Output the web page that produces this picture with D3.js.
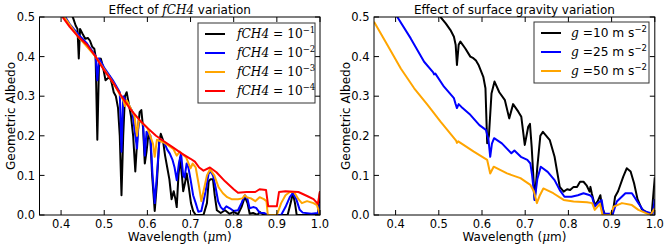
<!DOCTYPE html>
<html>
<head>
<meta charset="utf-8">
<script src="https://cdn.jsdelivr.net/npm/d3@7"></script>
<style>
  body { margin: 0; background: #fff; }
  text { font-family: "DejaVu Sans", sans-serif; fill: #000; }
  .math { font-family: "DejaVu Serif", serif; font-style: italic; }
  .rm { font-family: "DejaVu Serif", serif; }
</style>
</head>
<body>
<div id="chart"></div>
<script>
// tick values and labels
const xTicks = [0.4, 0.5, 0.6, 0.7, 0.8, 0.9, 1.0];
const xTickLabels = ["0.4", "0.5", "0.6", "0.7", "0.8", "0.9", "1.0"];
const yTicks = [0.0, 0.1, 0.2, 0.3, 0.4, 0.5];
const yTickLabels = ["0.0", "0.1", "0.2", "0.3", "0.4", "0.5"];

// left panel: [wavelength (um), albedo]
const fch4_1 = [[0.423,0.51],[0.428,0.497],[0.434,0.478],[0.438,0.47],[0.441,0.395],[0.444,0.47],[0.450,0.457],[0.456,0.445],[0.462,0.447],[0.467,0.44],[0.472,0.425],[0.477,0.42],[0.480,0.40],[0.484,0.19],[0.488,0.385],[0.492,0.395],[0.497,0.375],[0.503,0.34],[0.508,0.345],[0.513,0.35],[0.518,0.33],[0.522,0.31],[0.527,0.30],[0.532,0.27],[0.536,0.2],[0.540,0.05],[0.544,0.2],[0.548,0.30],[0.552,0.31],[0.557,0.28],[0.562,0.25],[0.567,0.2],[0.572,0.11],[0.577,0.2],[0.582,0.26],[0.586,0.265],[0.590,0.22],[0.594,0.13],[0.598,0.16],[0.603,0.21],[0.607,0.19],[0.611,0.1],[0.617,0.01],[0.622,0.08],[0.627,0.18],[0.631,0.205],[0.636,0.19],[0.641,0.15],[0.646,0.12],[0.651,0.09],[0.656,0.04],[0.661,0.06],[0.665,0.04],[0.668,0.02],[0.672,0.10],[0.676,0.145],[0.680,0.10],[0.683,0.06],[0.687,0.08],[0.691,0.105],[0.696,0.07],[0.701,0.03],[0.706,0.01],[0.712,0.0],[0.73,0.0],[0.738,0.03],[0.742,0.085],[0.746,0.09],[0.752,0.09],[0.756,0.05],[0.761,0.012],[0.77,0.005],[0.78,0.012],[0.79,0.003],[0.80,0.008],[0.81,0.002],[0.818,0.02],[0.826,0.046],[0.832,0.03],[0.837,0.003],[0.845,0.005],[0.855,0.0],[0.86,0.008],[0.87,0.0],[0.925,0.0],[0.932,0.03],[0.937,0.055],[0.942,0.03],[0.946,0.0],[0.995,0.0],[1.0,0.06]];
const fch4_2 = [[0.404,0.51],[0.42,0.482],[0.44,0.456],[0.46,0.433],[0.48,0.402],[0.484,0.34],[0.488,0.396],[0.50,0.372],[0.52,0.34],[0.536,0.31],[0.540,0.16],[0.544,0.30],[0.556,0.28],[0.565,0.262],[0.572,0.2],[0.576,0.168],[0.58,0.24],[0.59,0.23],[0.594,0.15],[0.598,0.21],[0.607,0.2],[0.612,0.1],[0.617,0.03],[0.622,0.1],[0.628,0.19],[0.634,0.19],[0.64,0.18],[0.646,0.165],[0.652,0.155],[0.658,0.14],[0.663,0.12],[0.668,0.088],[0.673,0.13],[0.678,0.156],[0.683,0.1],[0.686,0.095],[0.691,0.13],[0.695,0.12],[0.70,0.09],[0.706,0.05],[0.712,0.03],[0.718,0.008],[0.725,0.01],[0.735,0.06],[0.742,0.105],[0.747,0.11],[0.752,0.1],[0.758,0.07],[0.764,0.034],[0.770,0.02],[0.776,0.013],[0.783,0.022],[0.791,0.017],[0.80,0.01],[0.81,0.012],[0.818,0.03],[0.826,0.05],[0.832,0.04],[0.837,0.017],[0.845,0.02],[0.852,0.018],[0.86,0.006],[0.87,0.005],[0.88,0.0],[0.91,0.0],[0.92,0.02],[0.93,0.045],[0.937,0.055],[0.945,0.04],[0.953,0.013],[0.96,0.006],[0.98,0.003],[0.995,0.005],[1.0,0.03]];
const fch4_3 = [[0.404,0.505],[0.44,0.45],[0.48,0.40],[0.52,0.335],[0.544,0.29],[0.548,0.275],[0.552,0.29],[0.57,0.25],[0.576,0.2],[0.58,0.24],[0.60,0.22],[0.613,0.18],[0.617,0.147],[0.622,0.19],[0.64,0.182],[0.66,0.167],[0.668,0.15],[0.675,0.16],[0.69,0.145],[0.70,0.118],[0.705,0.13],[0.712,0.12],[0.72,0.07],[0.725,0.035],[0.73,0.06],[0.738,0.1],[0.745,0.115],[0.755,0.1],[0.765,0.07],[0.775,0.055],[0.785,0.045],[0.795,0.04],[0.81,0.04],[0.82,0.042],[0.826,0.05],[0.83,0.045],[0.84,0.042],[0.85,0.035],[0.86,0.045],[0.87,0.04],[0.876,0.035],[0.879,0.0],[0.90,0.0],[0.91,0.03],[0.92,0.05],[0.93,0.058],[0.94,0.058],[0.95,0.04],[0.958,0.03],[0.97,0.035],[0.985,0.03],[0.993,0.025],[1.0,0.0]];
const fch4_4 = [[0.40,0.505],[0.42,0.475],[0.44,0.45],[0.46,0.43],[0.48,0.40],[0.50,0.365],[0.52,0.335],[0.54,0.30],[0.56,0.268],[0.58,0.242],[0.60,0.22],[0.62,0.20],[0.64,0.185],[0.66,0.17],[0.68,0.155],[0.70,0.142],[0.71,0.135],[0.72,0.12],[0.73,0.112],[0.745,0.12],[0.76,0.108],[0.78,0.085],[0.80,0.065],[0.81,0.056],[0.83,0.058],[0.85,0.058],[0.86,0.065],[0.875,0.063],[0.88,0.022],[0.90,0.022],[0.905,0.058],[0.92,0.06],[0.95,0.058],[0.97,0.048],[0.985,0.04],[0.995,0.028],[1.0,0.06]];

// right panel: [wavelength (um), albedo]
const g10 = [[0.50,0.51],[0.504,0.5],[0.516,0.484],[0.527,0.467],[0.535,0.45],[0.539,0.43],[0.542,0.379],[0.546,0.43],[0.55,0.438],[0.561,0.421],[0.573,0.40],[0.58,0.396],[0.586,0.39],[0.592,0.379],[0.603,0.349],[0.608,0.32],[0.612,0.181],[0.616,0.2],[0.622,0.307],[0.629,0.337],[0.64,0.31],[0.653,0.29],[0.663,0.244],[0.672,0.28],[0.684,0.261],[0.691,0.248],[0.699,0.177],[0.707,0.223],[0.711,0.23],[0.715,0.172],[0.722,0.038],[0.728,0.12],[0.735,0.2],[0.741,0.21],[0.757,0.189],[0.768,0.147],[0.78,0.071],[0.789,0.059],[0.797,0.065],[0.804,0.063],[0.812,0.071],[0.82,0.071],[0.827,0.084],[0.835,0.084],[0.842,0.075],[0.849,0.059],[0.851,0.071],[0.854,0.055],[0.861,0.025],[0.868,0.035],[0.874,0.05],[0.878,0.02],[0.885,0.0],[0.902,0.0],[0.908,0.046],[0.915,0.06],[0.927,0.097],[0.935,0.118],[0.944,0.11],[0.952,0.08],[0.96,0.04],[0.97,0.015],[0.983,0.005],[0.993,0.005],[1.0,0.095]];
const g25 = [[0.40,0.51],[0.404,0.5],[0.435,0.446],[0.466,0.387],[0.487,0.36],[0.489,0.355],[0.492,0.357],[0.512,0.324],[0.535,0.295],[0.539,0.28],[0.542,0.27],[0.546,0.28],[0.555,0.27],[0.573,0.253],[0.594,0.227],[0.609,0.215],[0.615,0.19],[0.619,0.147],[0.623,0.18],[0.628,0.194],[0.646,0.181],[0.668,0.156],[0.675,0.163],[0.69,0.147],[0.705,0.139],[0.712,0.13],[0.716,0.1],[0.722,0.038],[0.728,0.09],[0.736,0.122],[0.752,0.109],[0.768,0.088],[0.78,0.063],[0.791,0.046],[0.807,0.046],[0.822,0.05],[0.835,0.055],[0.85,0.05],[0.855,0.045],[0.861,0.021],[0.868,0.03],[0.877,0.038],[0.882,0.003],[0.903,0.003],[0.912,0.034],[0.932,0.055],[0.947,0.055],[0.962,0.03],[0.974,0.01],[0.995,0.003],[1.0,0.04]];
const g50 = [[0.35,0.488],[0.381,0.429],[0.412,0.37],[0.443,0.32],[0.474,0.278],[0.504,0.236],[0.54,0.188],[0.542,0.182],[0.545,0.186],[0.581,0.16],[0.612,0.139],[0.619,0.105],[0.627,0.122],[0.658,0.105],[0.689,0.093],[0.70,0.085],[0.712,0.076],[0.72,0.06],[0.727,0.03],[0.734,0.05],[0.742,0.067],[0.765,0.055],[0.789,0.038],[0.812,0.034],[0.843,0.032],[0.855,0.03],[0.861,0.013],[0.873,0.028],[0.879,0.0],[0.897,0.0],[0.905,0.021],[0.924,0.03],[0.947,0.025],[0.962,0.013],[0.981,0.004],[0.99,0.0],[1.0,0.017]];

const W = 668, H = 250;
const svg = d3.select('#chart').append('svg')
    .attr('width', W)
    .attr('height', H);

const panelTop = 17, panelBottom = 215;

function drawPanel(left, right, series, title, legendRows, legendBox) {
    const x = d3.scaleLinear().domain([0.35, 1.0]).range([left, right]);
    const y = d3.scaleLinear().domain([0, 0.5]).range([panelBottom, panelTop]);
    const g = svg.append('g');
    const clipId = 'clip' + Math.round(left);

    g.append('clipPath').attr('id', clipId)
        .append('rect')
        .attr('x', left).attr('y', panelTop)
        .attr('width', right - left).attr('height', panelBottom - panelTop);

    const line = d3.line()
        .x(d => x(d[0]))
        .y(d => y(d[1]));

    g.append('g').attr('clip-path', `url(#${clipId})`)
        .selectAll('path')
        .data(series)
        .enter()
        .append('path')
        .attr('d', d => line(d.values))
        .style('fill', 'none')
        .style('stroke', d => d.color)
        .style('stroke-width', 2)
        .style('stroke-linejoin', 'round');

    // ticks inside on all four sides
    const tk = g.append('g').style('stroke', '#000').style('stroke-width', 1);
    xTicks.forEach(t => {
        tk.append('line').attr('x1', x(t)).attr('x2', x(t)).attr('y1', panelBottom).attr('y2', panelBottom - 5);
        tk.append('line').attr('x1', x(t)).attr('x2', x(t)).attr('y1', panelTop).attr('y2', panelTop + 5);
    });
    yTicks.forEach(t => {
        tk.append('line').attr('x1', left).attr('x2', left + 5).attr('y1', y(t)).attr('y2', y(t));
        tk.append('line').attr('x1', right).attr('x2', right - 5).attr('y1', y(t)).attr('y2', y(t));
    });

    g.append('rect')
        .attr('x', left).attr('y', panelTop)
        .attr('width', right - left).attr('height', panelBottom - panelTop)
        .style('fill', 'none').style('stroke', '#000').style('stroke-width', 1);

    g.selectAll('.xl').data(xTicks).enter().append('text')
        .attr('x', d => x(d)).attr('y', 228)
        .attr('text-anchor', 'middle')
        .style('font-size', '11.5px')
        .text((d, i) => xTickLabels[i]);

    g.selectAll('.yl').data(yTicks).enter().append('text')
        .attr('x', left - 4.5).attr('y', d => y(d) + 4.2)
        .attr('text-anchor', 'end')
        .style('font-size', '11.5px')
        .text((d, i) => yTickLabels[i]);

    // axis labels
    const xl = g.append('text')
        .attr('x', (left + right) / 2).attr('y', 241)
        .attr('text-anchor', 'middle')
        .style('font-size', '12px');
    xl.append('tspan').text('Wavelength (');
    xl.append('tspan').attr('class', 'math').text('μ');
    xl.append('tspan').text('m)');

    g.append('text')
        .attr('transform', `translate(${left - 24.5},${(panelTop + panelBottom) / 2}) rotate(-90)`)
        .attr('text-anchor', 'middle')
        .style('font-size', '12px')
        .text('Geometric Albedo');

    // title
    const tt = g.append('text')
        .attr('x', (left + right) / 2).attr('y', 14)
        .attr('text-anchor', 'middle')
        .style('font-size', '12px');
    title.forEach(p => tt.append('tspan').attr('class', p.cls || null).text(p.t));

    // legend
    g.append('rect')
        .attr('x', legendBox.x).attr('y', legendBox.y)
        .attr('width', legendBox.w).attr('height', legendBox.h)
        .style('fill', '#fff').style('stroke', '#333').style('stroke-width', 1);

    legendRows.forEach((r, i) => {
        const ly = legendBox.y + 11 + i * 19;
        g.append('line')
            .attr('x1', legendBox.x + 7).attr('x2', legendBox.x + 27)
            .attr('y1', ly).attr('y2', ly)
            .style('stroke', series[i].color).style('stroke-width', 2);
        const t = g.append('text')
            .attr('x', legendBox.x + legendBox.tx).attr('y', ly + 4.3)
            .style('font-size', '12.2px');
        r.forEach(p => {
            const s = t.append('tspan').attr('class', p.cls || null).text(p.t);
            if (p.sup) s.attr('dy', -5).style('font-size', '8.5px');
        });
    });
}

const fch4Exps = ['−1', '−2', '−3', '−4'];
const gravities = ['10', '25', '50'];

drawPanel(39.5, 320,
    [
        { values: fch4_1, color: '#000000' },
        { values: fch4_2, color: '#0000ff' },
        { values: fch4_3, color: '#ffa500' },
        { values: fch4_4, color: '#ff0000' }
    ],
    [{ t: 'Effect of ' }, { t: 'fCH4', cls: 'math' }, { t: ' variation' }],
    fch4Exps.map(e => [{ t: 'fCH4', cls: 'math' }, { t: ' = 10', cls: 'rm' }, { t: e, cls: 'rm', sup: true }]),
    { x: 198, y: 23, w: 117, h: 80, tx: 39 }
);

drawPanel(374, 654.8,
    [
        { values: g10, color: '#000000' },
        { values: g25, color: '#0000ff' },
        { values: g50, color: '#ffa500' }
    ],
    [{ t: 'Effect of surface gravity variation' }],
    gravities.map(v => [{ t: 'g', cls: 'math' }, { t: ' =' + v + ' m s' }, { t: '−2', sup: true }]),
    { x: 534, y: 22, w: 115, h: 61, tx: 37 }
);
</script>
</body>
</html>
